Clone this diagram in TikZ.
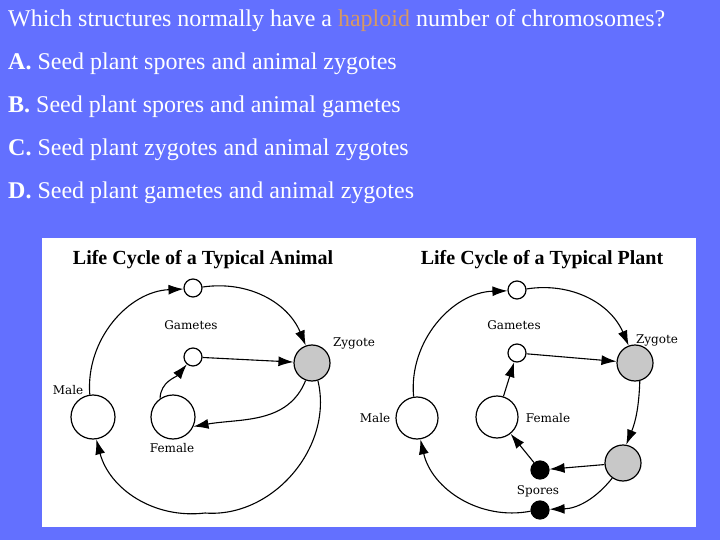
\documentclass[tikz,border=0pt]{standalone}
\usepackage{fontspec}
\setmainfont{Liberation Serif}
\newfontfamily\labfont{DejaVu Serif}
\newfontfamily\qfont{Liberation Serif}
\usetikzlibrary{arrows.meta}
\definecolor{bgblue}{RGB}{99,112,255}
\definecolor{haplo}{RGB}{214,152,100}
\definecolor{zgray}{RGB}{200,200,200}
\begin{document}
\begin{tikzpicture}[x=1pt,y=1pt,
  cell/.style={circle,draw=black,line width=1.2pt,inner sep=0pt,fill=white},
  gam/.style={cell,minimum size=18pt},
  adult/.style={cell,minimum size=44pt},
  padult/.style={cell,minimum size=42pt},
  zyg/.style={cell,fill=zgray,minimum size=36pt},
  spore/.style={cell,fill=black,minimum size=18pt},
  lab/.style={font=\labfont\fontsize{12}{12}\selectfont,inner sep=0pt},
  conn/.style={line width=1.1pt,-{Latex[length=15pt,width=10pt]}},
  qtext/.style={text=white,anchor=base west,inner sep=0pt,font=\qfont\fontsize{24}{24}\selectfont},
  ttl/.style={font=\qfont\bfseries\fontsize{20}{20}\selectfont,anchor=base,inner sep=0pt}
]
\useasboundingbox (0,0) rectangle (720,-540);
\fill[bgblue] (0,0) rectangle (720,-540);
\fill[white] (42,-238) rectangle (696,-527);

% question
\node[qtext] (q) at (8,-27) {Which structures normally have a \textcolor{haplo}{haploid} number of chromosomes?};
\node[qtext] (oa) at (8,-70) {\textbf{A.} Seed plant spores and animal zygotes};
\node[qtext] (ob) at (8,-113) {\textbf{B.} Seed plant spores and animal gametes};
\node[qtext] (oc) at (8,-156) {\textbf{C.} Seed plant zygotes and animal zygotes};
\node[qtext] (od) at (8,-199) {\textbf{D.} Seed plant gametes and animal zygotes};

% titles
\node[ttl] (ta) at (203,-264) {Life Cycle of a Typical Animal};
\node[ttl] (tp) at (542,-264) {Life Cycle of a Typical Plant};

% animal
\node[gam] (agam1) at (193,-288) {};
\node[gam] (agam2) at (193,-357) {};
\node[zyg] (azyg) at (312,-363) {};
\node[adult] (amale) at (93,-417) {};
\node[adult] (afem) at (173,-417) {};
\coordinate (abot) at (205,-513);

\node[lab] (lag) at (191,-325) {Gametes};
\node[lab] (laz) at (354,-343) {Zygote};
\node[lab] (lam) at (68,-390) {Male};
\node[lab] (laf) at (172,-448) {Female};

\draw[conn] (amale) to[bend left=46] (agam1);
\draw[conn] (agam1) to[bend left=38] (azyg);
\draw[conn] (agam2) -- (azyg);
\draw[conn] (afem.125) to[out=88,in=-130] (agam2);
\draw[conn] (azyg.-110) to[out=-112,in=10] (afem.-25);
\draw[conn] (azyg) to[bend left=54] (abot) to[bend left=41] (amale);

% plant
\node[gam] (pgam1) at (517,-290) {};
\node[gam] (pgam2) at (517,-353) {};
\node[zyg] (pzyg) at (635,-363) {};
\node[zyg] (pspo) at (623,-463) {};
\node[padult] (pmale) at (417,-418) {};
\node[padult] (pfem) at (497,-417) {};
\node[spore] (sp1) at (540,-470) {};
\node[spore] (sp2) at (540,-510) {};

\node[lab] (lpg) at (514,-325) {Gametes};
\node[lab] (lpz) at (657,-340) {Zygote};
\node[lab] (lpm) at (375,-418) {Male};
\node[lab] (lpf) at (548,-418) {Female};
\node[lab] (lps) at (538,-491) {Spores};

\draw[conn] (pmale) to[bend left=47] (pgam1);
\draw[conn] (pgam1) to[bend left=38] (pzyg);
\draw[conn] (pgam2) -- (pzyg);
\draw[conn] (pfem) -- (pgam2);
\draw[conn] (pzyg.-75) to[bend left=10] (pspo.80);
\draw[conn] (pspo) -- (sp1);
\draw[conn] (sp1) -- (pfem);
\draw[conn] (pspo) to[bend left=25] (sp2);
\draw[conn] (sp2) to[bend left=44] (pmale);
\end{tikzpicture}
\end{document}
